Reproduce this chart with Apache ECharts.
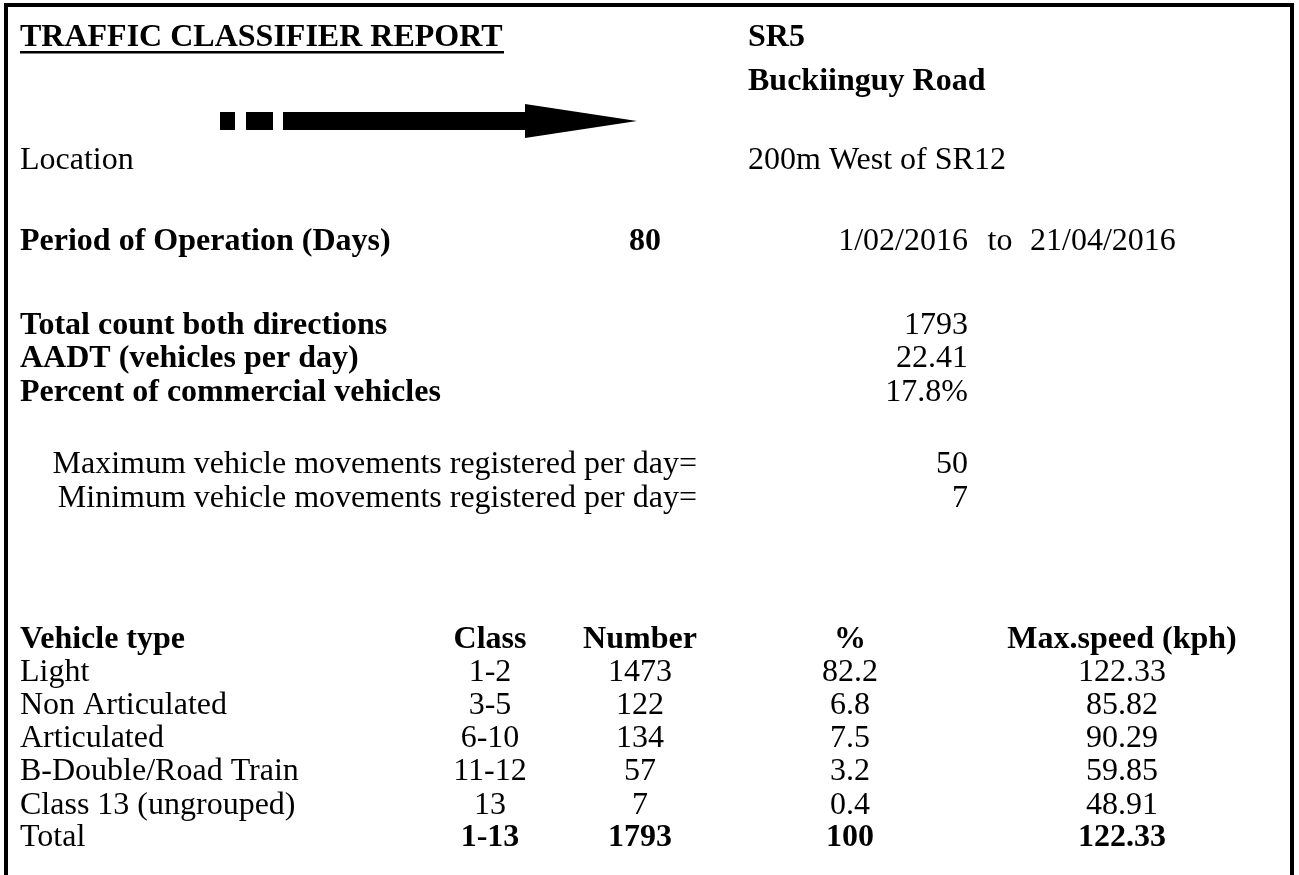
<!DOCTYPE html>
<html><head><meta charset="utf-8">
<script src="https://cdn.jsdelivr.net/npm/echarts@6/dist/echarts.min.js"></script>
<style>html,body{margin:0;padding:0;background:#fff}#c{width:1299px;height:875px}</style>
</head><body><div id="c"></div>
<script>
// ---- data ----
const reportTitle = 'TRAFFIC CLASSIFIER REPORT';
const roadCode = 'SR5';
const roadName = 'Buckiinguy Road';
const locationText = '200m West of SR12';
const periodDays = 80;
const periodStart = '1/02/2016';
const periodEnd = '21/04/2016';
const summaryLabels = ['Total count both directions', 'AADT (vehicles per day)', 'Percent of commercial vehicles'];
const summaryValues = ['1793', '22.41', '17.8%'];
const movementLabels = ['Maximum vehicle movements registered per day=', 'Minimum vehicle movements registered per day='];
const movementValues = [50, 7];
const tableHeaders = ['Vehicle type', 'Class', 'Number', '%', 'Max.speed (kph)'];
const vehicleTypes = ['Light', 'Non Articulated', 'Articulated', 'B-Double/Road Train', 'Class 13 (ungrouped)', 'Total'];
const vehicleClasses = ['1-2', '3-5', '6-10', '11-12', '13', '1-13'];
const vehicleNumbers = [1473, 122, 134, 57, 7, 1793];
const vehiclePercents = ['82.2', '6.8', '7.5', '3.2', '0.4', '100'];
const vehicleMaxSpeeds = ['122.33', '85.82', '90.29', '59.85', '48.91', '122.33'];

// ---- layout ----
const FS = 32;
const FF = '"Liberation Serif","Times New Roman",serif';
const REG = FS + 'px ' + FF;
const BOLD = 'bold ' + FS + 'px ' + FF;
const els = [];
function txt(t, x, y, bold, align) {
  els.push({type: 'text', silent: true, style: {text: String(t), x: x, y: y, font: bold ? BOLD : REG,
    fill: '#000', textAlign: align || 'left', textVerticalAlign: 'middle'}});
}
// border
els.push({type: 'rect', shape: {x: 6, y: 5, width: 1286, height: 900}, style: {fill: 'none', stroke: '#000', lineWidth: 4}});
// title + underline
txt(reportTitle, 20, 38, true);
els.push({type: 'rect', shape: {x: 20, y: 51, width: 484, height: 2.5}, style: {fill: '#000'}});
txt(roadCode, 748, 38, true);
txt(roadName, 748, 82, true);
// arrow
els.push({type: 'rect', shape: {x: 220, y: 112, width: 15, height: 18}, style: {fill: '#000'}});
els.push({type: 'rect', shape: {x: 246, y: 112, width: 27, height: 18}, style: {fill: '#000'}});
els.push({type: 'polygon', shape: {points: [[283, 112], [525, 112], [525, 104], [637, 121], [525, 138], [525, 130], [283, 130]]}, style: {fill: '#000'}});
txt('Location', 20, 161, false);
txt(locationText, 748, 161, false);
// period
txt('Period of Operation (Days)', 20, 242, true);
txt(periodDays, 645, 242, true, 'center');
txt(periodStart, 968, 242, false, 'right');
txt('to', 1000, 242, false, 'center');
txt(periodEnd, 1030, 242, false, 'left');
// summary
const sumY = [326, 359, 393];
summaryLabels.forEach((l, i) => { txt(l, 20, sumY[i], true); txt(summaryValues[i], 968, sumY[i], false, 'right'); });
const movY = [465, 499];
movementLabels.forEach((l, i) => { txt(l, 697, movY[i], false, 'right'); txt(movementValues[i], 968, movY[i], false, 'right'); });
// table
const colX = [20, 490, 640, 850, 1122];
const headY = 640;
tableHeaders.forEach((h, j) => txt(h, colX[j], headY, true, j === 0 ? 'left' : 'center'));
const rowY = [673, 706, 739, 772, 806, 838];
vehicleTypes.forEach((t, i) => {
  const last = i === vehicleTypes.length - 1;
  txt(t, colX[0], rowY[i], false, 'left');
  txt(vehicleClasses[i], colX[1], rowY[i], last, 'center');
  txt(vehicleNumbers[i], colX[2], rowY[i], last, 'center');
  txt(vehiclePercents[i], colX[3], rowY[i], last, 'center');
  txt(vehicleMaxSpeeds[i], colX[4], rowY[i], last, 'center');
});

const chart = echarts.init(document.getElementById('c'), null, {renderer: 'canvas'});
chart.setOption({backgroundColor: '#fff', animation: false, graphic: {elements: els}});
</script></body></html>
